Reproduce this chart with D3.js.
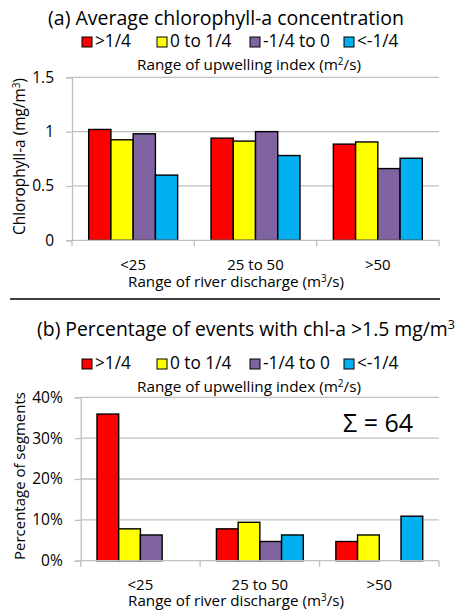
<!DOCTYPE html>
<html>
<head>
<meta charset="utf-8">
<script src="https://cdn.jsdelivr.net/npm/d3@7"></script>
<style>
  body { margin: 0; background: #fff; }
  svg text { font-family: "Open Sans", "Noto Sans", sans-serif; fill: #000; }
</style>
</head>
<body>
<svg id="chart" width="461" height="611"></svg>
<script>
const discharge = ["<25", "25 to 50", ">50"];
const upwelling = [">1/4", "0 to 1/4", "-1/4 to 0", "<-1/4"];
const palette = ["#ff0000", "#ffff00", "#8064a2", "#00b0f0"];

// mean chl-a (mg/m3) per discharge class, one value per upwelling class
const chlA = [
  [1.02, 0.925, 0.98, 0.60],
  [0.94, 0.913, 1.00, 0.78],
  [0.885, 0.905, 0.66, 0.755]
];
const chlTicks = [0, 0.5, 1, 1.5];

// % of events with chl-a > 1.5
const pctEvents = [
  [35.9, 7.8, 6.3, 0],
  [7.8, 9.4, 4.7, 6.3],
  [4.7, 6.3, 0, 10.9]
];
const pctTicks = [0, 10, 20, 30, 40];
const totalEvents = 64;

const svg = d3.select("#chart");
const grid = "#bfbfbf";

// scale a text's font so it spans the given width (fonts differ from the original's Calibri)
function fit(sel, width) {
  const fs = parseFloat(sel.attr("font-size"));
  const w = sel.node().getComputedTextLength();
  if (w > 0) sel.attr("font-size", (fs * width / w).toFixed(2));
  return sel;
}

function supText(sel, before, sup, after) {
  sel.append("tspan").text(before);
  sel.append("tspan").attr("font-size", "0.65em").attr("dy", "-0.55em").text(sup);
  sel.append("tspan").attr("dy", "0.36em").text(after);
  return sel;
}

function legend(g, y) {
  const xs = [82, 157, 250, 344];
  const labels = upwelling.map((name, i) => {
    g.append("rect").attr("x", xs[i]).attr("y", y - 10).attr("width", 10).attr("height", 10)
      .attr("fill", palette[i]).attr("stroke", "#000").attr("stroke-width", 1);
    return g.append("text").attr("x", xs[i] + 13).attr("y", y).attr("font-size", 15).text(name);
  });
  // one size for all items, taken from the widest label
  fit(labels[2], 67);
  labels.forEach(t => t.attr("font-size", labels[2].attr("font-size")));
}

function panel(opt) {
  const g = svg.append("g");

  const title = g.append("text").attr("x", opt.titleX).attr("y", opt.titleY)
    .attr("text-anchor", "middle").attr("font-size", 17);
  if (opt.titleSup) supText(title, opt.title, opt.titleSup, "");
  else title.text(opt.title);
  fit(title, opt.titleW);

  legend(g, opt.legendY);

  fit(supText(g.append("text").attr("x", 249).attr("y", opt.legendY + 23)
    .attr("text-anchor", "middle").attr("font-size", 14), "Range of upwelling index (m", "2", "/s)"), 224);

  const y = d3.scaleLinear().domain(opt.domain).range([opt.bottom, opt.top]);
  const x0 = d3.scaleBand().domain(discharge).range([opt.left, opt.right]);
  const x1 = d3.scaleBand().domain(upwelling).range([0, x0.bandwidth()]).paddingOuter(0.75);

  // gridlines
  g.append("g").selectAll("line").data(opt.ticks.filter(t => t > 0)).join("line")
    .attr("x1", opt.left).attr("x2", opt.right)
    .attr("y1", d => y(d)).attr("y2", d => y(d))
    .attr("stroke", grid).attr("stroke-width", 1.3);

  const yAxis = g.append("g").attr("transform", `translate(${opt.left},0)`)
    .call(d3.axisLeft(y).tickValues(opt.ticks).tickSize(6).tickPadding(12).tickFormat(opt.fmt));
  yAxis.select(".domain").attr("stroke", grid).attr("stroke-width", 1.3);
  yAxis.selectAll(".tick line").attr("stroke", grid).attr("stroke-width", 1.3);
  yAxis.selectAll(".tick text").attr("font-size", opt.tickFont)
    .attr("font-family", "'Open Sans', sans-serif").attr("fill", "#000");

  // bars
  g.append("g").selectAll("g").data(opt.values).join("g")
    .attr("transform", (d, i) => `translate(${x0(discharge[i])},0)`)
    .selectAll("rect").data(d => d.map((v, j) => ({ v, j })).filter(e => e.v > 0)).join("rect")
    .attr("x", e => x1(upwelling[e.j]))
    .attr("width", x1.bandwidth())
    .attr("y", e => y(e.v))
    .attr("height", e => y(0) - y(e.v))
    .attr("fill", e => palette[e.j])
    .attr("stroke", "#000").attr("stroke-width", 1.4);

  // x axis
  const xg = g.append("g");
  xg.append("line").attr("x1", opt.left).attr("x2", opt.right)
    .attr("y1", y(0)).attr("y2", y(0)).attr("stroke", grid).attr("stroke-width", 1.3);
  const edges = discharge.map(d => x0(d)).concat([opt.right]);
  xg.selectAll("line.tk").data(edges).join("line").attr("class", "tk")
    .attr("x1", d => d).attr("x2", d => d)
    .attr("y1", y(0)).attr("y2", y(0) + 6).attr("stroke", grid).attr("stroke-width", 1.3);
  xg.selectAll("text").data(discharge).join("text")
    .attr("x", d => x0(d) + x0.bandwidth() / 2).attr("y", y(0) + 29.5)
    .attr("text-anchor", "middle").attr("font-size", 15).text(d => d);

  fit(supText(g.append("text").attr("x", 236).attr("y", y(0) + opt.xTitleDy)
    .attr("text-anchor", "middle").attr("font-size", 14), "Range of river discharge (m", "3", "/s)"), 216);

  // y title
  const yt = g.append("text").attr("transform", `translate(25,${opt.yTitleY}) rotate(-90)`)
    .attr("text-anchor", "middle").attr("font-size", 14);
  if (opt.yTitleSup) supText(yt, opt.yTitle, opt.yTitleSup, ")");
  else yt.text(opt.yTitle);
  fit(yt, opt.yTitleW);

  return { g, x0, y };
}

panel({
  title: "(a) Average chlorophyll-a concentration", titleX: 226, titleY: 25, titleW: 356,
  legendY: 47,
  left: 72, right: 439, top: 77.3, bottom: 240.3,
  domain: [0, 1.5], ticks: chlTicks, fmt: d3.format("~g"), tickFont: 15.5,
  values: chlA, xTitleDy: 47,
  yTitle: "Chlorophyll-a (mg/m", yTitleSup: "3", yTitleY: 156.5, yTitleW: 157
});

svg.append("line").attr("x1", 10).attr("x2", 440).attr("y1", 299).attr("y2", 299)
  .attr("stroke", "#000").attr("stroke-width", 1.3);

const b = panel({
  title: "(b) Percentage of events with chl-a >1.5 mg/m", titleSup: "3", titleX: 246, titleY: 336, titleW: 418,
  legendY: 369,
  left: 80.7, right: 439, top: 397.3, bottom: 560.7,
  domain: [0, 40], ticks: pctTicks, fmt: d => d + "%", tickFont: 15.5,
  values: pctEvents, xTitleDy: 45.5,
  yTitle: "Percentage of segments", yTitleY: 476, yTitleW: 168
});

fit(b.g.append("text").attr("x", 378).attr("y", 432).attr("text-anchor", "middle")
  .attr("font-size", 22).text("\u03a3 = " + totalEvents), 70);
</script>
</body>
</html>
